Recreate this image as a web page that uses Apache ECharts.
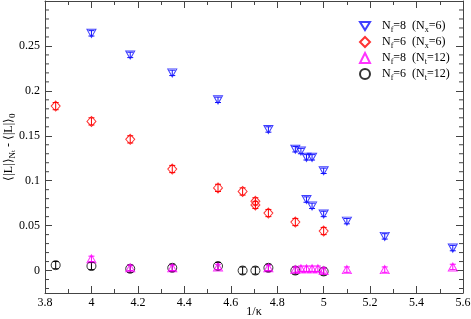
<!DOCTYPE html>
<html><head><meta charset="utf-8">
<script src="https://cdn.jsdelivr.net/npm/echarts@6/dist/echarts.min.js"></script>
<style>html,body{margin:0;padding:0;background:#fff}#c{width:471px;height:319px}</style>
</head><body><div id="c"></div>
<script>
const blueX = [4.0, 4.167, 4.348, 4.545, 4.762, 4.878, 4.902, 4.926, 4.950, 5.0, 4.926, 4.950, 5.0, 5.1, 5.263, 5.556];
const blueY = [0.264, 0.240, 0.220, 0.190, 0.157, 0.135, 0.133, 0.126, 0.126, 0.111, 0.079, 0.072, 0.063, 0.055, 0.038, 0.025];
const blueErr = [0.003, 0.003, 0.003, 0.003, 0.003, 0.003, 0.003, 0.003, 0.003, 0.003, 0.003, 0.003, 0.003, 0.003, 0.003, 0.003];
const redX = [3.846, 4.0, 4.167, 4.348, 4.545, 4.651, 4.706, 4.706, 4.762, 4.878, 5.0];
const redY = [0.183, 0.166, 0.146, 0.113, 0.092, 0.088, 0.077, 0.073, 0.064, 0.054, 0.044];
const redErr = [0.004, 0.004, 0.004, 0.004, 0.004, 0.004, 0.004, 0.004, 0.004, 0.004, 0.004];
const pinkX = [4.0, 4.167, 4.348, 4.545, 4.762, 4.878, 4.902, 4.926, 4.950, 4.975, 5.0, 5.1, 5.263, 5.556];
const pinkY = [0.013, 0.003, 0.003, 0.004, 0.003, 0.001, 0.002, 0.002, 0.002, 0.002, 0.000, 0.001, 0.001, 0.004];
const pinkErr = [0.003, 0.003, 0.003, 0.003, 0.003, 0.003, 0.003, 0.003, 0.003, 0.003, 0.003, 0.003, 0.003, 0.003];
const blackX = [3.846, 4.0, 4.167, 4.348, 4.545, 4.651, 4.706, 4.762, 4.878, 5.0];
const blackY = [0.006, 0.005, 0.002, 0.003, 0.005, 0.000, 0.000, 0.003, 0.000, -0.001];
const blackErr = [0.004, 0.004, 0.004, 0.004, 0.004, 0.004, 0.004, 0.004, 0.004, 0.004];
const seriesNames = ['Nf=8 (Nx=6)', 'Nf=6 (Nx=6)', 'Nf=8 (Nt=12)', 'Nf=6 (Nt=12)'];
const legendLabels = [
  'N{s|f}=8  (N{s|x}=6)',
  'N{s|f}=6  (N{s|x}=6)',
  'N{s|f}=8  (N{s|t}=12)',
  'N{s|f}=6  (N{s|t}=12)'
];
const xRange = {min: 3.8, max: 5.6, interval: 0.2};
const yRange = {min: -0.025, max: 0.3};
const yMajorTicks = [0, 0.05, 0.1, 0.15, 0.2, 0.25, 0.3];
const yLabelTicks = [0, 0.05, 0.1, 0.15, 0.2, 0.25];
const yMinorTicks = [];
for (let k = -2; k <= 29; k++) { if (k % 5 !== 0) yMinorTicks.push(+(k * 0.01).toFixed(2)); }

const FONT = 'Liberation Serif';
const AX = '#444';
const zip = (xs, ys) => xs.map((x, i) => [x, ys[i]]);
const triDown = 'path://M0,0 L10,0 L5,8 Z';

function sc(name, xs, ys, color, symbol, size, z) {
  return {
    name, type: 'scatter', data: zip(xs, ys), symbol, symbolSize: size, z,
    itemStyle: {color: 'rgba(255,255,255,0)', borderColor: color, borderWidth: 1},
    emphasis: {disabled: true}
  };
}
function eb(name, xs, ys, es, color, z) {
  return {
    name: name + ' err', type: 'custom', z, silent: true,
    data: xs.map((x, i) => [x, ys[i] - es[i], ys[i] + es[i]]),
    renderItem: (params, api) => {
      const lo = api.coord([api.value(0), api.value(1)]);
      const hi = api.coord([api.value(0), api.value(2)]);
      const w = 3;
      const st = {stroke: color, lineWidth: 1};
      return {type: 'group', children: [
        {type: 'line', shape: {x1: lo[0], y1: lo[1], x2: hi[0], y2: hi[1]}, style: st},
        {type: 'line', shape: {x1: lo[0] - w, y1: lo[1], x2: lo[0] + w, y2: lo[1]}, style: st},
        {type: 'line', shape: {x1: hi[0] - w, y1: hi[1], x2: hi[0] + w, y2: hi[1]}, style: st}
      ]};
    }
  };
}
// minor ticks of the y axis (left and right frames), placed through the axis scale
const minorTickSeries = {
  name: 'yMinor', type: 'custom', silent: true, z: 1, clip: false,
  data: yMinorTicks.map(v => [xRange.min, v]),
  renderItem: (params, api) => {
    const l = api.coord([xRange.min, api.value(1)]);
    const r = api.coord([xRange.max, api.value(1)]);
    const st = {stroke: AX, lineWidth: 1};
    return {type: 'group', children: [
      {type: 'line', shape: {x1: l[0], y1: l[1], x2: l[0] + 4, y2: l[1]}, style: st},
      {type: 'line', shape: {x1: r[0] - 4, y1: r[1], x2: r[0], y2: r[1]}, style: st}
    ]};
  }
};

const chart = echarts.init(document.getElementById('c'), null, {renderer: 'canvas'});
const lineOn = {show: true, onZero: false, lineStyle: {color: AX, width: 1}};
function yAx(pos, labels) {
  return {type: 'value', position: pos, min: yRange.min, max: yRange.max,
    axisLine: lineOn, splitLine: {show: false},
    axisTick: {inside: true, length: 7, customValues: yMajorTicks, lineStyle: {color: AX}},
    axisLabel: labels ? {fontFamily: FONT, fontSize: 12, color: '#000', margin: 5, customValues: labels,
      formatter: v => String(+(+v).toFixed(3))} : {show: false}
  };
}
const yLeft = yAx('left', yLabelTicks);
yLeft.name = '⟨|L|⟩{s|N}{ss|t} - ⟨|L|⟩{s|0}';
yLeft.nameLocation = 'middle';
yLeft.nameGap = 28;
yLeft.nameMoveOverlap = false;
yLeft.nameTextStyle = {fontFamily: FONT, fontSize: 12, color: '#000',
  rich: {s: {fontFamily: FONT, fontSize: 9, verticalAlign: 'bottom', padding: [7, 0, 0, 0]},
         ss: {fontFamily: FONT, fontSize: 7, verticalAlign: 'bottom', padding: [10, 0, 0, 0]}}};

chart.setOption({
  animation: false,
  backgroundColor: '#fff',
  grid: {left: 45, right: 8, top: 1, bottom: 26, containLabel: false, outerBoundsMode: 'none'},
  legend: {
    orient: 'vertical', left: 354, top: 15, itemGap: 2, itemWidth: 10, itemHeight: 10,
    data: seriesNames,
    formatter: n => legendLabels[seriesNames.indexOf(n)],
    textStyle: {fontFamily: FONT, fontSize: 12, color: '#000', padding: [0, 0, 0, 7],
      rich: {s: {fontFamily: FONT, fontSize: 8, verticalAlign: 'bottom', padding: [8, 0, 0, 0]}}}
  },
  xAxis: [
    {type: 'value', position: 'bottom', min: xRange.min, max: xRange.max, interval: xRange.interval,
      name: '1/κ', nameLocation: 'middle', nameGap: 13, nameMoveOverlap: false,
      nameTextStyle: {fontFamily: FONT, fontSize: 12, color: '#000'},
      axisLine: lineOn, splitLine: {show: false},
      axisTick: {inside: true, length: 7, lineStyle: {color: AX}},
      minorTick: {show: true, splitNumber: 2, length: 4, lineStyle: {color: AX}},
      axisLabel: {fontFamily: FONT, fontSize: 12, color: '#000', margin: 4, formatter: v => String(+v.toFixed(2))}
    },
    {type: 'value', position: 'top', min: xRange.min, max: xRange.max, interval: xRange.interval,
      axisLine: lineOn, splitLine: {show: false},
      axisTick: {inside: true, length: 7, lineStyle: {color: AX}},
      minorTick: {show: true, splitNumber: 2, length: 4, lineStyle: {color: AX}},
      axisLabel: {show: false}
    }
  ],
  yAxis: [yLeft, yAx('right', null)],
  series: [
    minorTickSeries,
    eb(seriesNames[0], blueX, blueY, blueErr, '#1010ff', 2),
    sc(seriesNames[0], blueX, blueY, '#1010ff', triDown, [9, 8], 3),
    eb(seriesNames[1], redX, redY, redErr, '#ff0000', 2),
    sc(seriesNames[1], redX, redY, '#ff0000', 'diamond', [9, 10], 3),
    eb(seriesNames[3], blackX, blackY, blackErr, '#000000', 2),
    sc(seriesNames[3], blackX, blackY, '#000000', 'circle', 9, 3),
    eb(seriesNames[2], pinkX, pinkY, pinkErr, '#ff00ff', 4),
    sc(seriesNames[2], pinkX, pinkY, '#ff00ff', 'triangle', [9, 8], 4)
  ]
});
</script></body></html>
